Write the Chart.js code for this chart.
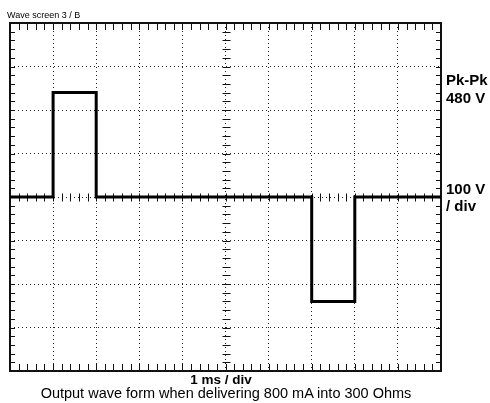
<!DOCTYPE html>
<html lang="en">
<head>
<meta charset="UTF-8">
<title>Wave screen 3 / B</title>
<script src="https://cdn.jsdelivr.net/npm/chart.js"></script>
<style>
  html, body { margin: 0; padding: 0; background: #fff; }
  body { font-family: "Liberation Sans", Arial, sans-serif; color: #000; }
  .wrap { position: relative; width: 490px; height: 403px; overflow: hidden; }
  canvas { position: absolute; left: 0; top: 0; }
  .lbl { position: absolute; white-space: nowrap; line-height: 1; }
  .small { font-size: 9px; left: 7px; top: 11px; }
  .side { font-size: 15px; font-weight: bold; left: 446px; }
  .center { left: 0; width: 452px; text-align: center; }
</style>
</head>
<body>
<div class="wrap">
  <canvas id="scope" width="490" height="403"></canvas>
  <div class="lbl small">Wave screen 3 / B</div>
  <div class="lbl side" style="top:72px">Pk-Pk</div>
  <div class="lbl side" style="top:90px">480 V</div>
  <div class="lbl side" style="top:181px">100 V</div>
  <div class="lbl side" style="top:198px">/ div</div>
  <div class="lbl center" style="top:373px;font-size:13.5px;font-weight:bold;width:442px">1 ms / div</div>
  <div class="lbl center" style="top:386px;font-size:14.5px">Output wave form when delivering 800 mA into 300 Ohms</div>
</div>
<script>
  // trace corners (time in ms, voltage in V)
  const timeMs = [0, 1, 1, 2, 2, 7, 7, 8, 8, 10];
  const volts  = [0, 0, 240, 240, 0, 0, -240, -240, 0, 0];

  // screen graticule: 10 x 8 divisions, 1 ms/div and 100 V/div
  const xMin = 0, xMax = 10, xStep = 1;
  const yMin = -400, yMax = 400, yStep = 100;
  const minorPerDiv = 5;

  const points = timeMs.map((t, i) => ({ x: t, y: volts[i] }));

  // frame, minor ticks on the edges and on the centre axes
  const graticule = {
    id: 'graticule',
    beforeDatasetsDraw(chart) {
      const { ctx, chartArea: a, scales: { x, y } } = chart;
      const cx = Math.round(x.getPixelForValue((xMin + xMax) / 2)) + 0.5;
      const cy = Math.round(y.getPixelForValue(0)) + 0.5;
      ctx.save();
      ctx.strokeStyle = '#111';
      ctx.lineWidth = 1;
      ctx.beginPath();
      const nx = (xMax - xMin) / xStep * minorPerDiv;
      for (let i = 1; i < nx; i++) {
        const px = Math.round(x.getPixelForValue(xMin + i * xStep / minorPerDiv)) + 0.5;
        ctx.moveTo(px, a.top); ctx.lineTo(px, a.top + 7);
        ctx.moveTo(px, a.bottom); ctx.lineTo(px, a.bottom - 7);
        ctx.moveTo(px, cy - 4); ctx.lineTo(px, cy + 4);
      }
      const ny = (yMax - yMin) / yStep * minorPerDiv;
      for (let j = 1; j < ny; j++) {
        const py = Math.round(y.getPixelForValue(yMin + j * yStep / minorPerDiv)) + 0.5;
        ctx.moveTo(a.left, py); ctx.lineTo(a.left + 5, py);
        ctx.moveTo(a.right, py); ctx.lineTo(a.right - 5, py);
        ctx.moveTo(cx - 4, py); ctx.lineTo(cx + 4, py);
      }
      ctx.stroke();
      ctx.lineWidth = 2;
      ctx.strokeRect(a.left, a.top, a.width, a.height);
      ctx.restore();
    }
  };

  const gridStyle = {
    grid: { color: '#222', lineWidth: 1, drawTicks: false },
    border: { display: false, dash: [1, 3] },
    ticks: { display: false }
  };

  new Chart(document.getElementById('scope').getContext('2d'), {
    type: 'line',
    data: {
      datasets: [{
        data: points,
        borderColor: '#000',
        borderWidth: 3,
        pointRadius: 0,
        tension: 0,
        fill: false
      }]
    },
    options: {
      responsive: false,
      animation: false,
      devicePixelRatio: 1,
      layout: { padding: { left: 10, right: 49, top: 23, bottom: 32 } },
      plugins: { legend: { display: false }, tooltip: { enabled: false } },
      scales: {
        x: Object.assign({ type: 'linear', min: xMin, max: xMax }, gridStyle,
          { ticks: { display: false, stepSize: xStep } }),
        y: Object.assign({ type: 'linear', min: yMin, max: yMax }, gridStyle,
          { ticks: { display: false, stepSize: yStep } })
      }
    },
    plugins: [graticule]
  });
</script>
</body>
</html>
